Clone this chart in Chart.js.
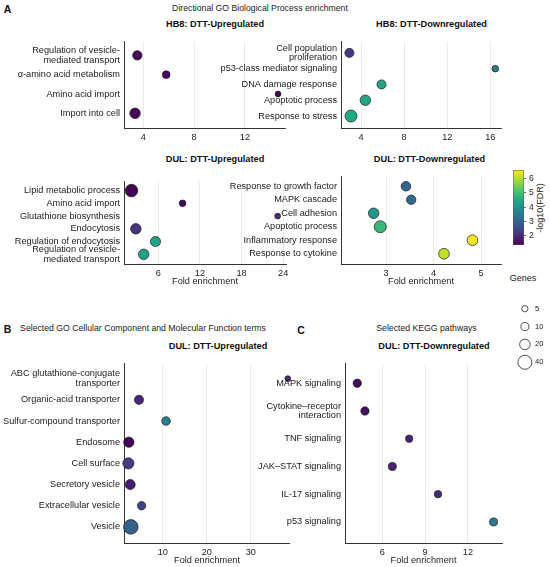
<!DOCTYPE html>
<html>
<head>
<meta charset="utf-8">
<script src="https://cdn.jsdelivr.net/npm/chart.js@4.4.1/dist/chart.umd.min.js"></script>
<style>
  body { margin: 0; background: #fff; width: 550px; height: 567px; position: relative; overflow: hidden;
         font-family: "Liberation Sans", Arial, sans-serif; color: #111; }
  canvas { position: absolute; }
  .t { position: absolute; white-space: nowrap; line-height: 1; transform: translate(-50%, -50%); }
  .big { font-weight: bold; font-size: 10.5px; }
  .sub { font-weight: bold; font-size: 9.2px; }
  .head { font-size: 8.7px; color: #222; }
</style>
</head>
<body>
<div class="t big" style="left:7.5px;top:9px">A</div>
<div class="t head" style="left:260px;top:7.5px">Directional GO Biological Process enrichment</div>
<div class="t sub" style="left:215px;top:24.5px">HB8: DTT-Upregulated</div>
<div class="t sub" style="left:431.5px;top:24.5px">HB8: DTT-Downregulated</div>
<div class="t sub" style="left:215px;top:159.5px">DUL: DTT-Upregulated</div>
<div class="t sub" style="left:429.5px;top:159.5px">DUL: DTT-Downregulated</div>
<div class="t big" style="left:7.5px;top:328.5px">B</div>
<div class="t head" style="left:143px;top:328px">Selected GO Cellular Component and Molecular Function terms</div>
<div class="t sub" style="left:218px;top:347px">DUL: DTT-Upregulated</div>
<div class="t big" style="left:301px;top:330px">C</div>
<div class="t head" style="left:426.5px;top:328px">Selected KEGG pathways</div>
<div class="t sub" style="left:434px;top:347px">DUL: DTT-Downregulated</div>
<div class="t" style="left:523px;top:278px;font-size:9px;color:#222">Genes</div>
<div class="t" style="left:540px;top:208px;font-size:9px;color:#222;transform:translate(-50%,-50%) rotate(-90deg)">-log10(FDR)</div>

<canvas id="hb8Up"></canvas>
<canvas id="hb8Down"></canvas>
<canvas id="dulUp"></canvas>
<canvas id="dulDown"></canvas>
<canvas id="goB"></canvas>
<canvas id="keggC"></canvas>
<canvas id="cbar"></canvas>
<canvas id="sizeLegend"></canvas>

<script>
// --- data ---
const hb8UpTerms = [['Regulation of vesicle-', 'mediated transport'], 'α-amino acid metabolism', 'Amino acid import', 'Import into cell'];
const hb8UpFold = [3.53, 5.8, 14.6, 3.35];
const hb8UpLogFdr = [1.5, 1.5, 1.45, 1.4];
const hb8UpGenes = [15, 9, 4, 20];

const hb8DownTerms = [['Cell population', 'proliferation'], 'p53-class mediator signaling', 'DNA damage response', 'Apoptotic process', 'Response to stress'];
const hb8DownFold = [2.92, 16.46, 5.9, 4.4, 3.07];
const hb8DownLogFdr = [2.25, 3.5, 4.4, 4.45, 4.5];
const hb8DownGenes = [14, 6, 14, 20, 28];

const dulUpTerms = ['Lipid metabolic process', 'Amino acid import', 'Glutathione biosynthesis', 'Endocytosis', 'Regulation of endocytosis', ['Regulation of vesicle-', 'mediated transport']];
const dulUpFold = [2.14, 9.5, 23.2, 2.77, 5.6, 3.9];
const dulUpLogFdr = [1.4, 1.5, 2.0, 2.15, 4.4, 4.35];
const dulUpGenes = [31, 6, 4, 20, 18, 20];

const dulDownTerms = ['Response to growth factor', 'MAPK cascade', 'Cell adhesion', 'Apoptotic process', 'Inflammatory response', 'Response to cytokine'];
const dulDownFold = [3.42, 3.53, 2.74, 2.88, 4.82, 4.22];
const dulDownLogFdr = [3.1, 3.1, 4.15, 4.85, 6.5, 6.1];
const dulDownGenes = [16, 15, 20, 28, 21, 21];

const goTerms = [['ABC glutathione-conjugate', 'transporter'], 'Organic-acid transporter', 'Sulfur-compound transporter', 'Endosome', 'Cell surface', 'Secretory vesicle', 'Extracellular vesicle', 'Vesicle'];
const goFold = [38.4, 4.6, 10.75, 2.3, 2.2, 2.6, 5.2, 2.75];
const goLogFdr = [2.0, 1.95, 3.6, 1.4, 2.3, 1.8, 2.4, 3.0];
const goGenes = [4, 14, 12, 19, 23, 18, 11, 44];

const keggTerms = ['MAPK signaling', ['Cytokine–receptor', 'interaction'], 'TNF signaling', 'JAK–STAT signaling', 'IL-17 signaling', 'p53 signaling'];
const keggFold = [4.24, 4.78, 7.88, 6.7, 9.9, 13.8];
const keggLogFdr = [1.5, 1.6, 1.9, 1.9, 1.95, 3.5];
const keggGenes = [11, 11, 8, 10, 8, 10];

const hb8UpTicks = [4, 8, 12];
const hb8DownTicks = [4, 8, 12, 16];
const dulUpTicks = [6, 12, 18, 24];
const dulDownTicks = [3, 4, 5];
const goTicks = [10, 20, 30];
const keggTicks = [6, 9, 12];
const fdrTicks = [2, 3, 4, 5, 6];
const legendGenes = [5, 10, 20, 40];

// colour scale limits (-log10 FDR) and viridis stops
const fdrMin = 1.37, fdrMax = 6.6;
const viridis = ['#440154', '#482475', '#414487', '#355f8d', '#2a788e', '#21918c', '#22a884', '#44bf70', '#7ad151', '#bddf26', '#fde725'];

Chart.defaults.font.family = '"Liberation Sans", Arial, sans-serif';
Chart.defaults.color = '#222';

function hexRgb(h) {
  return [1, 3, 5].map(i => parseInt(h.slice(i, i + 2), 16));
}
function fdrColor(v) {
  let t = (v - fdrMin) / (fdrMax - fdrMin);
  t = Math.max(0, Math.min(1, t));
  const p = t * 10, i = Math.min(9, Math.floor(p)), f = p - i;
  const a = hexRgb(viridis[i]), b = hexRgb(viridis[i + 1]);
  return 'rgb(' + a.map((c, k) => Math.round(c + (b[k] - c) * f)).join(',') + ')';
}
function geneRadius(n) {
  return 1 + 0.95 * Math.sqrt(n);
}

function placeCanvas(cv, left, top, w, h) {
  cv.width = w; cv.height = h;
  cv.style.left = left + 'px'; cv.style.top = top + 'px';
  cv.style.width = w + 'px'; cv.style.height = h + 'px';
}

// box: canvas left, plot edges, right padding, height of x axis band
function dotPanel(id, box, terms, fold, logFdr, genes, xMin, xMax, xTicks, xTitle) {
  const cv = document.getElementById(id);
  const yW = box.plotLeft - box.left;
  placeCanvas(cv, box.left, box.plotTop, box.plotRight + box.padR - box.left, box.plotBottom - box.plotTop + box.axisH);

  new Chart(cv, {
    type: 'bubble',
    data: {
      datasets: [{
        data: terms.map((t, i) => ({ x: fold[i], y: i, r: geneRadius(genes[i]) })),
        backgroundColor: logFdr.map(fdrColor),
        borderColor: '#1a1a1a',
        borderWidth: 0.7,
        clip: false
      }]
    },
    options: {
      responsive: false,
      animation: false,
      events: [],
      layout: { padding: { left: 0, top: 0, right: box.padR, bottom: 0 } },
      plugins: { legend: { display: false }, tooltip: { enabled: false } },
      scales: {
        x: {
          type: 'linear', min: xMin, max: xMax,
          afterBuildTicks: s => { s.ticks = xTicks.map(v => ({ value: v })); },
          afterFit: s => { s.height = box.axisH; },
          grid: { color: '#e6e6e6', lineWidth: 0.8, drawTicks: false },
          border: { color: '#333', width: 1 },
          ticks: { color: '#222', font: { size: 9.2 }, padding: 3.5 },
          title: { display: !!xTitle, text: xTitle || '', color: '#222', font: { size: 9.2 }, padding: 0 }
        },
        y: {
          type: 'linear', reverse: true, min: -0.7, max: terms.length - 1 + 0.76,
          afterBuildTicks: s => { s.ticks = terms.map((t, i) => ({ value: i })); },
          afterFit: s => { s.width = yW; },
          grid: { display: false, drawTicks: false },
          border: { color: '#333', width: 1 },
          ticks: { color: '#1a1a1a', font: { size: 9.2, lineHeight: 1.05 }, padding: 4, autoSkip: false,
                   callback: v => terms[v] }
        }
      }
    }
  });
}

dotPanel('hb8Up', { left: 0, plotLeft: 124, plotRight: 285, padR: 8, plotTop: 33, plotBottom: 128, axisH: 20 },
  hb8UpTerms, hb8UpFold, hb8UpLogFdr, hb8UpGenes, 2.48, 15.15, hb8UpTicks, null);
dotPanel('hb8Down', { left: 212, plotLeft: 341, plotRight: 501, padR: 8, plotTop: 33, plotBottom: 128, axisH: 20 },
  hb8DownTerms, hb8DownFold, hb8DownLogFdr, hb8DownGenes, 2.14, 16.99, hb8DownTicks, null);
dotPanel('dulUp', { left: 0, plotLeft: 124, plotRight: 286, padR: 8, plotTop: 168, plotBottom: 264, axisH: 23 },
  dulUpTerms, dulUpFold, dulUpLogFdr, dulUpGenes, 1.06, 24.4, dulUpTicks, 'Fold enrichment');
dotPanel('dulDown', { left: 212, plotLeft: 341, plotRight: 501, padR: 8, plotTop: 168, plotBottom: 264, axisH: 23 },
  dulDownTerms, dulDownFold, dulDownLogFdr, dulDownGenes, 2.053, 5.42, dulDownTicks, 'Fold enrichment');
dotPanel('goB', { left: 0, plotLeft: 124, plotRight: 290, padR: 8, plotTop: 355, plotBottom: 543, axisH: 23 },
  goTerms, goFold, goLogFdr, goGenes, 1.2, 38.9, goTicks, 'Fold enrichment');
dotPanel('keggC', { left: 250, plotLeft: 345, plotRight: 502, padR: 8, plotTop: 355, plotBottom: 543, axisH: 23 },
  keggTerms, keggFold, keggLogFdr, keggGenes, 3.38, 14.39, keggTicks, 'Fold enrichment');

// colour bar
const cb = document.getElementById('cbar');
placeCanvas(cb, 513, 162, 30, 91);
new Chart(cb, {
  type: 'bar',
  data: {
    labels: [''],
    datasets: [{
      data: [[fdrMin, fdrMax]],
      backgroundColor: c => {
        const a = c.chart.chartArea;
        if (!a) return viridis[5];
        const g = c.chart.ctx.createLinearGradient(0, a.bottom, 0, a.top);
        viridis.forEach((col, i) => g.addColorStop(i / 10, col));
        return g;
      },
      borderColor: '#555',
      borderWidth: 0.8,
      borderSkipped: false,
      barPercentage: 1,
      categoryPercentage: 1
    }]
  },
  options: {
    responsive: false, animation: false, events: [],
    layout: { padding: { top: 1, bottom: 1 } },
    plugins: { legend: { display: false }, tooltip: { enabled: false } },
    scales: {
      x: { display: false },
      y: {
        position: 'right', min: fdrMin, max: fdrMax,
        afterBuildTicks: s => { s.ticks = fdrTicks.map(v => ({ value: v })); },
        afterFit: s => { s.width = 19; },
        grid: { display: true, drawOnChartArea: false, drawTicks: true, tickLength: 2, color: '#444', lineWidth: 0.8 },
        border: { display: false },
        ticks: { color: '#222', font: { size: 8.5 }, padding: 3 }
      }
    }
  }
});

// size legend
const sl = document.getElementById('sizeLegend');
placeCanvas(sl, 509, 292, 41, 87);
new Chart(sl, {
  type: 'bubble',
  data: {
    datasets: [{
      data: legendGenes.map((n, i) => ({ x: 0, y: i, r: geneRadius(n) })),
      backgroundColor: '#fff',
      borderColor: '#222',
      borderWidth: 0.8,
      clip: false
    }]
  },
  options: {
    responsive: false, animation: false, events: [],
    layout: { padding: 0 },
    plugins: { legend: { display: false }, tooltip: { enabled: false } },
    scales: {
      x: { display: false, min: -1, max: 1 },
      y: {
        position: 'right', reverse: true, min: -0.5, max: legendGenes.length - 0.5,
        afterBuildTicks: s => { s.ticks = legendGenes.map((n, i) => ({ value: i })); },
        afterFit: s => { s.width = 17; },
        grid: { display: false, drawTicks: false },
        border: { display: false },
        ticks: { color: '#222', font: { size: 7.5 }, padding: 2, callback: v => String(legendGenes[v]) }
      }
    }
  }
});
</script>
</body>
</html>
